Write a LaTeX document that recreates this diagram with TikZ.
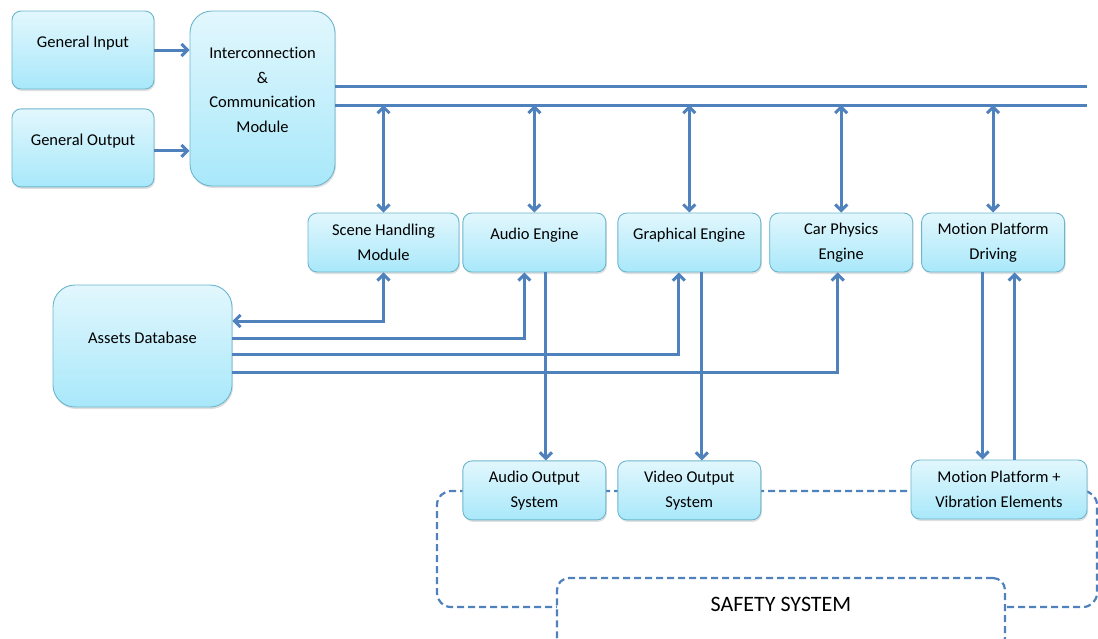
\documentclass[tikz,border=0pt]{standalone}
\usepackage{fontspec}
\setmainfont{Carlito}[Ligatures=NoCommon]
\usetikzlibrary{arrows.meta,shadows,positioning}
\definecolor{boxtop}{HTML}{E2F7FD}
\definecolor{boxbot}{HTML}{A8E8FA}
\definecolor{boxline}{HTML}{6CB6CD}
\definecolor{arrowblue}{HTML}{4F81BD}
\begin{document}
\begin{tikzpicture}[x=1pt, y=-1pt, line width=3pt, >={Straight Barb[length=6pt,width=12pt]},
    main/.style = {draw=boxline, line width=0.9pt, rounded corners=9pt, top color=boxtop, bottom color=boxbot,
        minimum height=59pt, minimum width=143pt, align=center, font=\fontsize{16.5}{24.5}\selectfont,
        drop shadow={shadow xshift=1pt, shadow yshift=-2pt, opacity=0.25}},
    big/.style = {main, rounded corners=22pt},
    lift/.style = {text depth=17pt},
    link/.style = {draw=arrowblue},
    safe/.style = {draw=arrowblue, line width=2.2pt, dash pattern=on 7pt off 4pt, rounded corners=14pt}]
        \useasboundingbox (0,0) rectangle (1098,638);
        \node[safe, minimum width=660pt, minimum height=116pt](0) at (767,549) {};

        \node[main, lift, minimum width=142pt, minimum height=78pt](1) at (83,50) {General Input};
        \node[main, lift, minimum width=142pt, minimum height=78pt](2)[below=19pt of 1] {General Output};
        \node[big, lift, minimum width=145pt, minimum height=175pt](3) at (262.5,98.5) {Interconnection\\\&\\Communication\\Module};
        \node[main, minimum width=151pt](4) at (383.5,242.5) {Scene Handling\\Module};
        \node[main, lift](5)[right=3pt of 4] {Audio Engine};
        \node[main, lift](6)[right=11pt of 5] {Graphical Engine};
        \node[main](7)[right=8pt of 6] {Car Physics\\Engine};
        \node[main](8)[right=8pt of 7] {Motion Platform\\Driving};
        \node[big, lift, minimum width=179pt, minimum height=122pt](9) at (142.5,346) {Assets Database};
        \node[main](10)[below=188pt of 5] {Audio Output\\System};
        \node[main](11)[below=188pt of 6] {Video Output\\System};
        \node[main, minimum width=176pt](12) at (999,489.5) {Motion Platform +\\Vibration Elements};
        \node[safe, fill=white, rounded corners=12pt, minimum width=448pt, minimum height=72pt, text depth=20pt,
            font=\fontsize{22}{26}\selectfont](13) at (781,614) {SAFETY SYSTEM};

        % bus
        \coordinate (b1) at (1087,86);
        \coordinate (b2) at (1087,105);
        \draw[link] (3.east |- b1) -- (b1);
        \draw[link] (3.east |- b2) -- (b2);
        \foreach \n in {4,...,8}
            \draw[link, <->] (\n.north |- b2) -- (\n.north);

        \draw[link, ->] (1.east) -- (1.east -| 3.west);
        \draw[link, ->] ([yshift=-3pt]2.east) -- ([yshift=-3pt]2.east -| 3.west);

        % assets
        \draw[link, <->] (4.south) |- ([yshift=25pt]9.east);
        \draw[link, ->] ([yshift=8pt]9.east) -| ([xshift=-10pt]5.south);
        \draw[link, ->] ([yshift=-8pt]9.east) -| ([xshift=-10.5pt]6.south);
        \draw[link, ->] ([yshift=-26pt]9.east) -| ([xshift=-3.5pt]7.south);

        % outputs
        \draw[link, ->] ([xshift=11.5pt]5.south) -- ([xshift=11.5pt]5.south |- 10.north);
        \draw[link, ->] ([xshift=12.5pt]6.south) -- ([xshift=12.5pt]6.south |- 11.north);
        \draw[link, ->] ([xshift=-10.5pt]8.south) -- ([xshift=-10.5pt]8.south |- 12.north);
        \draw[link, ->] ([xshift=21.5pt]8.south |- 12.north) -- ([xshift=21.5pt]8.south);
    \end{tikzpicture}
\end{document}
